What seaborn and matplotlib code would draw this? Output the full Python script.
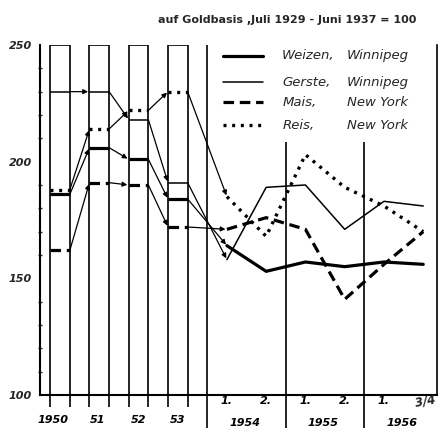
import matplotlib
matplotlib.use("Agg")
import matplotlib.pyplot as plt
import seaborn as sns
import numpy as np
import pandas as pd
from matplotlib.ticker import MultipleLocator
from matplotlib.transforms import blended_transform_factory

sns.set_style("white")
plt.rcParams['font.family'] = ['DejaVu Sans']

# ---------------- data ----------------
title = "auf Goldbasis ,Juli 1929 - Juni 1937 = 100"
y_ticks = [100, 150, 200, 250]
year_labels = ["1950", "51", "52", "53"]
quarter_labels = ["1.", "2.", "1.", "2.", "1.", "3/4"]
quarter_years = ["1954", "1955", "1956"]
series_names = ["Weizen,", "Gerste,", "Mais,", "Reis,"]
series_places = ["Winnipeg", "Winnipeg", "New York", "New York"]

weizen_annual = [186, 206, 201, 184]
gerste_annual = [230, 230, 218, 191]
mais_annual = [162, 191, 190, 172]
reis_annual = [188, 214, 222, 230]

weizen_quarter = [164, 153, 157, 155, 157, 156]
gerste_quarter = [158, 189, 190, 171, 183, 181]
mais_quarter = [171, 176, 171, 141, 156, 170]
reis_quarter = [185, 168, 203, 189, 181, 170]

annual = [weizen_annual, gerste_annual, mais_annual, reis_annual]
quarterly = [weizen_quarter, gerste_quarter, mais_quarter, reis_quarter]

# ---------------- styles / layout ----------------
styles = [
    dict(lw=2.3, ls="-"),
    dict(lw=1.1, ls="-"),
    dict(lw=2.3, ls=(0, (3.3, 1.8))),
    dict(lw=2.4, ls=(0, (0.9, 1.7))),
]
bar_x = np.arange(len(year_labels))
bar_w = 0.5
q_x = 4.25 + np.arange(len(quarter_labels))
section_x = [3.75, 5.75, 7.75]

fig = plt.figure(figsize=(4.39, 4.28), dpi=100)
ax = fig.add_axes([0.0911, 0.0771, 0.9043, 0.8178])
ax.set_xlim(-0.51, 9.6)
ax.set_ylim(100, 250)

# bars (empty columns)
ax.bar(bar_x, 150, bottom=100, width=bar_w, color="white",
       edgecolor="black", linewidth=1.2, zorder=1)
edges = np.concatenate([bar_x - bar_w / 2, bar_x + bar_w / 2])
ax.vlines(edges, 94.8, 100, color="black", lw=1.2, clip_on=False)

# section separators
ax.vlines(section_x[0], 86, 250, color="black", lw=1.2, clip_on=False)
ax.vlines(section_x[1:], 86, 208.5, color="black", lw=1.2, clip_on=False)

# annual segments + connectors
for vals, qvals, st in zip(annual, quarterly, styles):
    ax.hlines(vals, bar_x - bar_w / 2, bar_x + bar_w / 2, colors="black",
              linewidth=st["lw"], linestyles=[st["ls"]], zorder=3)
    starts = [(x + bar_w / 2, v) for x, v in zip(bar_x, vals)]
    ends = [(x - bar_w / 2, v) for x, v in zip(bar_x[1:], vals[1:])] + [(q_x[0], qvals[0])]
    for a, b in zip(starts, ends):
        ax.annotate("", xy=b, xytext=a,
                    arrowprops=dict(arrowstyle="-|>", lw=0.9, color="black",
                                    mutation_scale=7, shrinkA=0, shrinkB=1),
                    zorder=3)

# quarterly lines
for qvals, st in zip(quarterly, styles):
    df = pd.DataFrame({"x": q_x, "v": qvals})
    sns.lineplot(data=df, x="x", y="v", ax=ax, color="black",
                 linewidth=st["lw"], linestyle=st["ls"], sort=False,
                 estimator=None, zorder=4)

# axes styling
ax.spines["top"].set_visible(False)
ax.spines["left"].set_linewidth(1.5)
ax.spines["bottom"].set_linewidth(1.5)
ax.spines["right"].set_linewidth(1.2)
for s in ["left", "bottom", "right"]:
    ax.spines[s].set_color("black")

ax.set_yticks(y_ticks, labels=[str(v) for v in y_ticks],
              fontweight="bold", fontstyle="italic", fontsize=8)
ax.yaxis.set_minor_locator(MultipleLocator(10))
ax.tick_params(axis="y", which="major", direction="out", length=5, width=1.3, pad=1)
ax.tick_params(axis="y", which="minor", direction="inout", length=3, width=1.0, left=True)

ax.set_xticks(q_x)
ax.tick_params(axis="x", which="major", direction="out", length=3, width=1.0,
               labelbottom=False)
ax.set_xlabel("")
ax.set_ylabel("")
ax.grid(False)

trans = blended_transform_factory(ax.transData, ax.transAxes)
lab_kw = dict(fontsize=8, fontweight="bold", fontstyle="italic", ha="center",
              transform=trans, color="black")
year_offsets = [-0.17, -0.05, 0.0, 0.0]
for x, t, o in zip(bar_x, year_labels, year_offsets):
    ax.text(x + o, -0.07, t, va="center", **lab_kw)
for x, t in zip(q_x, quarter_labels):
    if t == "3/4":
        ax.text(x + 0.05, -0.018, t, va="center", fontsize=8.5, fontweight="bold",
                fontstyle="italic", ha="center", transform=trans, rotation=10)
    else:
        ax.text(x, -0.018, t, va="center", **lab_kw)
for k, t in enumerate(quarter_years):
    ax.text((q_x[2 * k] + q_x[2 * k + 1]) / 2 - 0.05, -0.08, t, va="center", **lab_kw)

# legend (manual)
leg_y = [0.969, 0.894, 0.837, 0.771]
for y, st, n, p in zip(leg_y, styles, series_names, series_places):
    ax.plot([0.461, 0.562], [y, y], transform=ax.transAxes, color="black",
            lw=st["lw"], ls=st["ls"], clip_on=False)
    ax.text(0.610, y, n, transform=ax.transAxes, fontsize=9.5, fontstyle="italic",
            va="center", ha="left")
    ax.text(0.773, y, p, transform=ax.transAxes, fontsize=9.5, fontstyle="italic",
            va="center", ha="left")

fig.text(0.654, 0.953, title, ha="center", va="center", fontsize=8,
         fontweight="bold")

fig.savefig("out.png", dpi=100)
